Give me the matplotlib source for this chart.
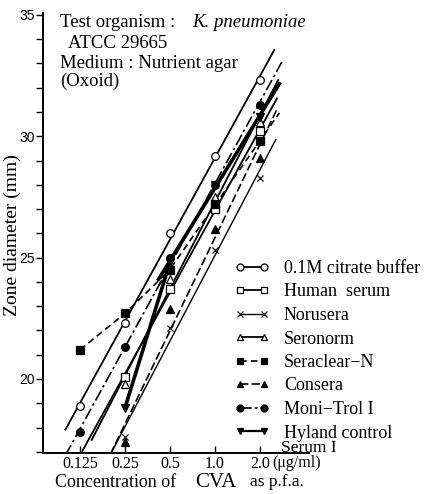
import numpy as np
import matplotlib.pyplot as plt
from matplotlib.lines import Line2D
from matplotlib.legend_handler import HandlerLine2D
from matplotlib.ticker import MultipleLocator, FixedLocator

plt.rcParams['font.family'] = ['Liberation Serif', 'DejaVu Serif']

# concentrations (ug/ml) and zone diameters (mm)
conc = [0.125, 0.25, 0.5, 1.0, 2.0]
citrate = [18.9, 22.3, 26.0, 29.2, 32.3]
human = [np.nan, 20.1, 23.7, 27.0, 30.2]
norusera = [np.nan, 17.6, 22.1, 25.3, 28.3]
seronorm = [np.nan, 19.8, 24.1, 27.5, 30.6]
seraclear = [21.2, 22.7, 24.5, 27.2, 29.8]
consera = [np.nan, 17.4, 22.9, 26.2, 29.1]
monitrol = [17.8, 21.3, 25.0, 28.0, 31.3]
hyland = [np.nan, 18.8, 24.8, 28.0, 30.8]

names = ["0.1M citrate buffer", "Human  serum", "Norusera", "Seronorm",
         "Seraclear\u2212N", "Consera", "Moni\u2212Trol I", "Hyland control"]
series = [citrate, human, norusera, seronorm, seraclear, consera, monitrol, hyland]

# marker, filled, linestyle, linewidth, first point used for fit, line extent, joined points
styles = [
    dict(m="o", fill=False, ls="-", lw=1.3, fit=0, ext=(0.10, 2.5), join=None),
    dict(m="s", fill=False, ls="-", lw=1.3, fit=1, ext=(0.13, 2.6), join=None),
    dict(m="x", fill=False, ls="-", lw=1.0, fit=1, ext=(0.20, 2.55), join=None),
    dict(m="^", fill=False, ls="-", lw=1.3, fit=1, ext=(0.15, 2.65), join=None),
    dict(m="s", fill=True, ls=(0, (4, 2.5)), lw=1.2, fit=2, ext=(0.42, 2.7), join=(0, 3)),
    dict(m="^", fill=True, ls=(0, (5, 2)), lw=1.2, fit=1, ext=(0.20, 2.6), join=None),
    dict(m="o", fill=True, ls=(0, (7, 2, 1.5, 2)), lw=1.2, fit=0, ext=(0.10, 2.8), join=None),
    dict(m="v", fill=True, ls="-", lw=2.6, fit=2, ext=(0.42, 2.7), join=(1, 3)),
]

fig = plt.figure(figsize=(4.34, 4.94), dpi=100)
ax = fig.add_axes([43 / 434, 41 / 494, 266 / 434, 440 / 494])

x = np.array(conc)
handles = []
for y, st, name in zip(series, styles, names):
    y = np.array(y)
    k = st["fit"]
    ok = ~np.isnan(y[k:])
    b, a = np.polyfit(np.log2(x[k:][ok]), y[k:][ok], 1)
    xs = np.array(st["ext"])
    ax.plot(xs, a + b * np.log2(xs), color="black", ls=st["ls"], lw=st["lw"])
    if st["join"]:
        i0, i1 = st["join"]
        ax.plot(x[i0:i1], y[i0:i1], color="black", ls=st["ls"], lw=st["lw"])
    fc = "black" if st["fill"] else "white"
    ax.plot(x, y, ls="none", marker=st["m"], ms=5.5 if st["m"] != "x" else 5,
            mfc=fc, mec="black", mew=0.9, zorder=3)
    handles.append(Line2D([], [], color="black", ls=st["ls"], lw=min(st["lw"], 1.6),
                          marker=st["m"], ms=5, mfc=fc, mec="black", mew=0.9, label=name))

ax.set_xscale("log", base=2)
ax.set_xlim(0.0708, 4.26)
ax.set_ylim(16.95, 35.08)
for s in ["top", "right"]:
    ax.spines[s].set_visible(False)
for s in ["left", "bottom"]:
    ax.spines[s].set_linewidth(1.4)

ax.xaxis.set_major_locator(FixedLocator(conc))
ax.xaxis.set_minor_locator(FixedLocator([]))
ax.set_xticklabels(["0.125", "0.25", "0.5", "1.0", "2.0"], fontsize=11.5)
ax.tick_params(axis="x", direction="in", length=5, width=1, pad=2)
ax.yaxis.set_major_locator(MultipleLocator(5))
ax.yaxis.set_minor_locator(MultipleLocator(1))
ax.tick_params(axis="y", which="major", direction="out", length=5, width=1, pad=0.5)
ax.tick_params(axis="y", which="minor", direction="out", length=5, width=1)
for lab in ax.get_yticklabels():
    lab.set_family("Liberation Sans")
    lab.set_fontsize(10)

fig.text(272 / 434, 1 - 463 / 494, "(\u03bcg/ml)", fontsize=11.5, va="center")
fig.text(55 / 434, 1 - 482 / 494, "Concentration of", fontsize=13, va="center")
fig.text(195 / 434, 1 - 482 / 494, "CVA", fontsize=15, va="center")
fig.text(250 / 434, 1 - 482 / 494, "as p.f.a.", fontsize=12.5, va="center")
fig.text(12 / 434, 1 - 235 / 494, "Zone diameter (mm)", fontsize=14, rotation=90,
         ha="center", va="center")

fig.text(60 / 434, 1 - 27 / 494, "Test organism : ", fontsize=13.5, va="baseline")
fig.text(192 / 434, 1 - 27 / 494, "K. pneumoniae", fontsize=13.5, style="italic", va="baseline")
fig.text(68 / 434, 1 - 48 / 494, "ATCC 29665", fontsize=13.5, va="baseline")
fig.text(60 / 434, 1 - 68 / 494, "Medium : Nutrient agar", fontsize=13.5, va="baseline")
fig.text(60 / 434, 1 - 86 / 494, "(Oxoid)", fontsize=13.5, va="baseline")

fig.legend(handles=handles, loc="upper left", bbox_to_anchor=(226 / 434, 1 - 260 / 494),
           frameon=False, fontsize=13, handlelength=2.9, handletextpad=0.3,
           labelspacing=0.36, borderpad=0, borderaxespad=0,
           handler_map={Line2D: HandlerLine2D(marker_pad=0.8, numpoints=2)})
fig.text(281 / 434, 1 - 448 / 494, "Serum I", fontsize=12.5, va="center")

fig.savefig("out.png", dpi=100)
